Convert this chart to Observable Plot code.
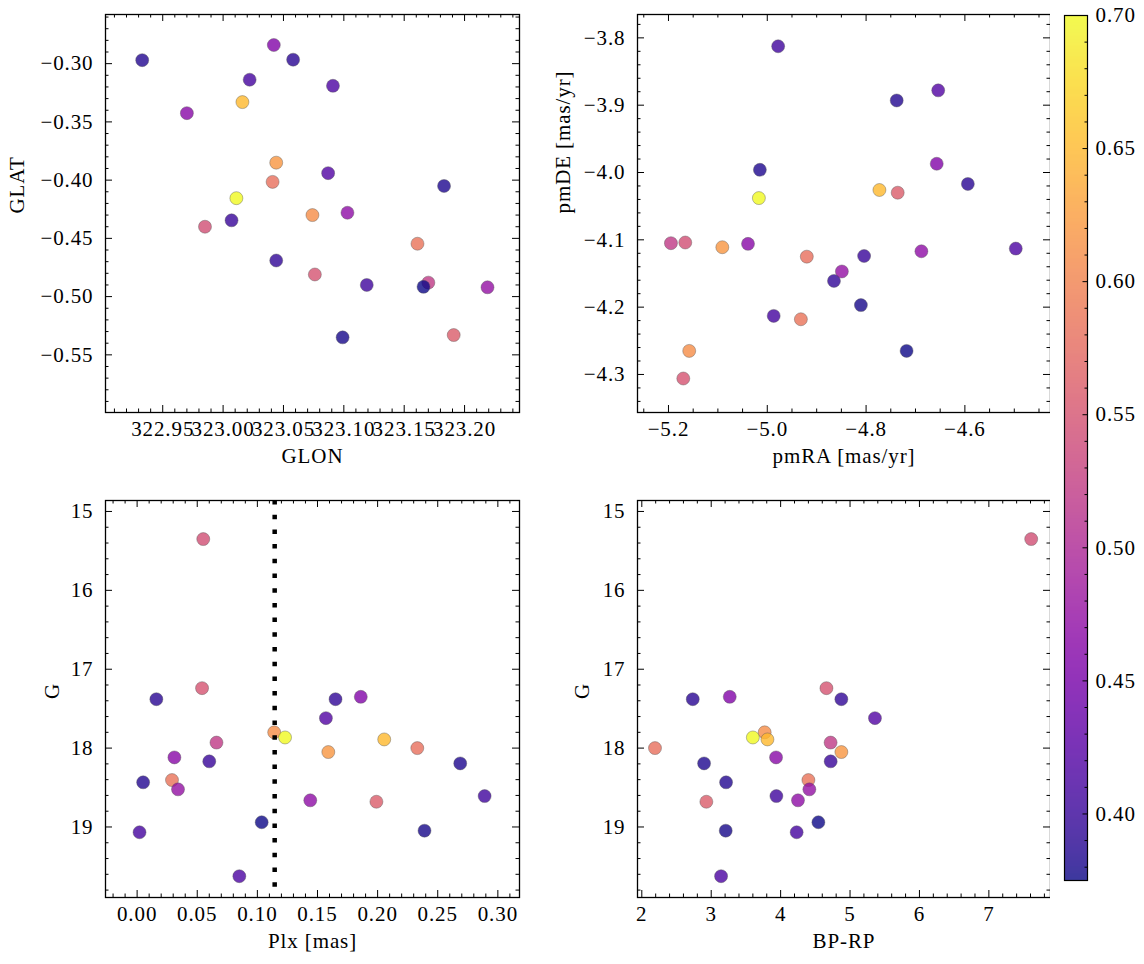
<!DOCTYPE html>
<html><head><meta charset="utf-8">
<script src="https://cdn.jsdelivr.net/npm/d3@7"></script>
<script src="https://cdn.jsdelivr.net/npm/@observablehq/plot@0.6"></script>
<style>
body{margin:0;background:#fff}
#fig{position:relative;width:1144px;height:964px;background:#fff;overflow:hidden}
#fig svg{position:absolute}
</style></head><body><div id="fig"></div>
<script>
// ---- data (one entry per star) ----
const glon = [323.170, 322.985, 323.076, 323.191, 323.041, 323.161, 323.074, 323.044, 323.016, 323.011,
              323.166, 323.099, 323.183, 322.933, 323.058, 323.044, 323.007, 323.119, 323.022, 323.091,
              323.087, 323.042, 322.970, 323.103, 323.219];
const glat = [-0.488, -0.440, -0.481, -0.533, -0.4015, -0.4546, -0.430, -0.385, -0.333, -0.4155,
              -0.4916, -0.535, -0.405, -0.297, -0.2966, -0.469, -0.4345, -0.490, -0.3138, -0.319,
              -0.394, -0.284, -0.3425, -0.428, -0.492];
const pmra = [-5.195, -5.166, -5.170, -4.736, -4.920, -4.932, -5.158, -5.091, -4.773, -5.017,
              -4.718, -4.8105, -5.015, -4.738, -4.594, -4.865, -4.804, -4.978, -4.987, -4.497,
              -4.654, -4.657, -5.039, -4.688, -4.849];
const pmde = [-4.105, -4.104, -4.306, -4.030, -4.125, -4.218, -4.265, -4.111, -4.026, -4.038,
              -4.265, -4.197, -3.996, -3.893, -4.017, -4.161, -4.124, -3.8125, -4.213, -4.113,
              -3.878, -3.987, -4.106, -4.117, -4.147];
const plx  = [0.066, 0.055, 0.054, 0.199, 0.233, 0.029, 0.114, 0.159, 0.2055, 0.123,
              0.1036, 0.239, 0.2687, 0.005, 0.016, 0.165, 0.060, 0.289, 0.002, 0.085,
              0.157, 0.186, 0.031, 0.144, 0.034];
const gmag = [17.93, 15.35, 17.24, 18.68, 18.00, 18.405, 17.80, 18.05, 17.89, 17.865,
              18.94, 19.047, 18.194, 18.434, 17.38, 17.38, 18.168, 18.608, 19.067, 19.624,
              17.62, 17.35, 18.118, 18.662, 18.523];
const bprp = [4.72, 7.61, 4.66, 2.93, 2.19, 4.40, 3.77, 4.875, 3.81, 3.60,
              4.544, 3.209, 2.897, 3.214, 2.734, 4.875, 4.721, 3.939, 4.231, 3.142,
              5.359, 3.267, 3.934, 4.25, 4.414];
const cval = [0.52, 0.545, 0.55, 0.56, 0.58, 0.585, 0.61, 0.62, 0.65, 0.70,
              0.375, 0.38, 0.383, 0.386, 0.39, 0.395, 0.40, 0.405, 0.41, 0.415,
              0.42, 0.46, 0.465, 0.47, 0.475];
const plxRef = 0.1144;

// tick labels
const glonTicks = [322.95, 323.00, 323.05, 323.10, 323.15, 323.20];
const glatTicks = [-0.30, -0.35, -0.40, -0.45, -0.50, -0.55];
const pmraTicks = [-5.2, -5.0, -4.8, -4.6];
const pmdeTicks = [-3.8, -3.9, -4.0, -4.1, -4.2, -4.3];
const plxTicks  = [0.00, 0.05, 0.10, 0.15, 0.20, 0.25, 0.30];
const gTicks    = [15, 16, 17, 18, 19];
const bprpTicks = [2, 3, 4, 5, 6, 7];
const cTicks    = [0.40, 0.45, 0.50, 0.55, 0.60, 0.65, 0.70];

const rows = glon.map((d, i) => ({glon: d, glat: glat[i], pmra: pmra[i], pmde: pmde[i],
  plx: plx[i], g: gmag[i], bprp: bprp[i], c: cval[i]}));

const cDomain = [0.375, 0.70];
const colorScale = {type: "linear", scheme: "plasma", domain: cDomain};
const FONT = "'Liberation Serif', 'DejaVu Serif', serif";
const STYLE = {fontFamily: FONT, fontSize: "21px", letterSpacing: "0.9px", color: "black",
  background: "white", overflow: "visible"};
const fig = document.getElementById("fig");

function minors(domain, step, majors) {
  const lo = Math.min(...domain), hi = Math.max(...domain), out = [];
  for (let k = Math.ceil(lo / step - 1e-9); k * step <= hi + 1e-9; k++) {
    const v = +(k * step).toFixed(6);
    if (!majors.some(m => Math.abs(m - v) < step / 10)) out.push(v);
  }
  return out;
}

function panel(o) {
  const m = o.margin, iw = o.width - m.l - m.r, ih = o.height - m.t - m.b;
  const MAJ = 7, MIN = 3.5;
  const xMin = minors(o.xDomain, o.xStep, o.xTicks), yMin = minors(o.yDomain, o.yStep, o.yTicks);
  const marks = [
    Plot.dot(rows, {x: o.x, y: o.y, r: 6.5, fill: "c", fillOpacity: 0.8,
      stroke: "#555", strokeOpacity: 0.8, strokeWidth: 0.5}),
    ...(o.extra || []),
    Plot.ruleX(o.xTicks, {insetTop: ih - MAJ, strokeWidth: 1}),
    Plot.ruleX(o.xTicks, {insetBottom: ih - MAJ, strokeWidth: 1}),
    Plot.ruleX(xMin, {insetTop: ih - MIN, strokeWidth: 1}),
    Plot.ruleX(xMin, {insetBottom: ih - MIN, strokeWidth: 1}),
    Plot.ruleY(o.yTicks, {insetRight: iw - MAJ, strokeWidth: 1}),
    Plot.ruleY(o.yTicks, {insetLeft: iw - MAJ, strokeWidth: 1}),
    Plot.ruleY(yMin, {insetRight: iw - MIN, strokeWidth: 1}),
    Plot.ruleY(yMin, {insetLeft: iw - MIN, strokeWidth: 1}),
    Plot.frame({stroke: "black", strokeWidth: 1.3}),
    Plot.axisX(o.xTicks, {tickSize: 0, tickPadding: 9, tickFormat: o.xFmt, label: null}),
    Plot.axisY(o.yTicks, {tickSize: 0, tickPadding: 12, tickFormat: o.yFmt, label: null}),
    Plot.text([o.xLabel], {frameAnchor: "bottom", dy: 50, text: d => d}),
    Plot.text([o.yLabel], {frameAnchor: "left", dx: -o.yLabelDx, rotate: -90, text: d => d})
  ];
  const svg = Plot.plot({
    width: o.width, height: o.height,
    marginLeft: m.l, marginRight: m.r, marginTop: m.t, marginBottom: m.b,
    x: {domain: o.xDomain}, y: {domain: o.yDomain}, color: colorScale,
    style: STYLE,
    marks
  });
  svg.style.left = o.left + "px";
  svg.style.top = o.top + "px";
  fig.append(svg);
}

const f2 = d3.format(".2f"), f1 = d3.format(".1f"), fd = d3.format("d");

panel({left: 0, top: 0, width: 540, height: 490, margin: {l: 105, r: 21, t: 14, b: 78},
  x: "glon", y: "glat", xDomain: [322.9026, 323.2455], yDomain: [-0.5995, -0.2578],
  xTicks: glonTicks, yTicks: glatTicks, xStep: 0.01, yStep: 0.01, xFmt: f2, yFmt: f2,
  xLabel: "GLON", yLabel: "GLAT", yLabelDx: 88});

panel({left: 540, top: 0, width: 530, height: 490, margin: {l: 97, r: 20, t: 14, b: 78},
  x: "pmra", y: "pmde", xDomain: [-5.2627, -4.4267], yDomain: [-4.3565, -3.7653],
  xTicks: pmraTicks, yTicks: pmdeTicks, xStep: 0.05, yStep: 0.02, xFmt: f1, yFmt: f1,
  xLabel: "pmRA [mas/yr]", yLabel: "pmDE [mas/yr]", yLabelDx: 74});

panel({left: 0, top: 490, width: 540, height: 474, margin: {l: 105, r: 21, t: 10, b: 67},
  x: "plx", y: "g", xDomain: [-0.0263, 0.318], yDomain: [19.894, 14.861],
  xTicks: plxTicks, yTicks: gTicks, xStep: 0.01, yStep: 0.2, xFmt: f2, yFmt: fd,
  xLabel: "Plx [mas]", yLabel: "G", yLabelDx: 53,
  extra: [Plot.ruleX([plxRef], {stroke: "black", strokeWidth: 4.5, strokeDasharray: "4.5,10.2"})]});

panel({left: 540, top: 490, width: 530, height: 474, margin: {l: 97, r: 20, t: 10, b: 67},
  x: "bprp", y: "g", xDomain: [1.938, 7.888], yDomain: [19.894, 14.861],
  xTicks: bprpTicks, yTicks: gTicks, xStep: 0.2, yStep: 0.2, xFmt: fd, yFmt: fd,
  xLabel: "BP-RP", yLabel: "G", yLabelDx: 55});

// ---- colorbar ----
{
  const W = 94, H = 964, m = {l: 14, r: 57, t: 15, b: 84};
  const iw = W - m.l - m.r;
  const cMin = minors(cDomain, 0.01, cTicks);
  const svg = Plot.plot({
    width: W, height: H, marginLeft: m.l, marginRight: m.r, marginTop: m.t, marginBottom: m.b,
    x: {domain: [0, 1], axis: null}, y: {domain: cDomain}, color: colorScale,
    style: STYLE,
    marks: [
      Plot.raster({fill: (x, y) => y, x1: 0, x2: 1, y1: cDomain[0], y2: cDomain[1], opacity: 0.8}),
      Plot.ruleY(cTicks, {insetLeft: iw - 4.5}),
      Plot.ruleY(cMin, {insetLeft: iw - 2.5}),
      Plot.frame({stroke: "black", strokeWidth: 1.2}),
      Plot.axisY(cTicks, {anchor: "right", tickSize: 0, tickPadding: 8, tickFormat: f2, label: null})
    ]
  });
  svg.style.left = "1050px";
  svg.style.top = "0px";
  fig.append(svg);
}
</script></body></html>
